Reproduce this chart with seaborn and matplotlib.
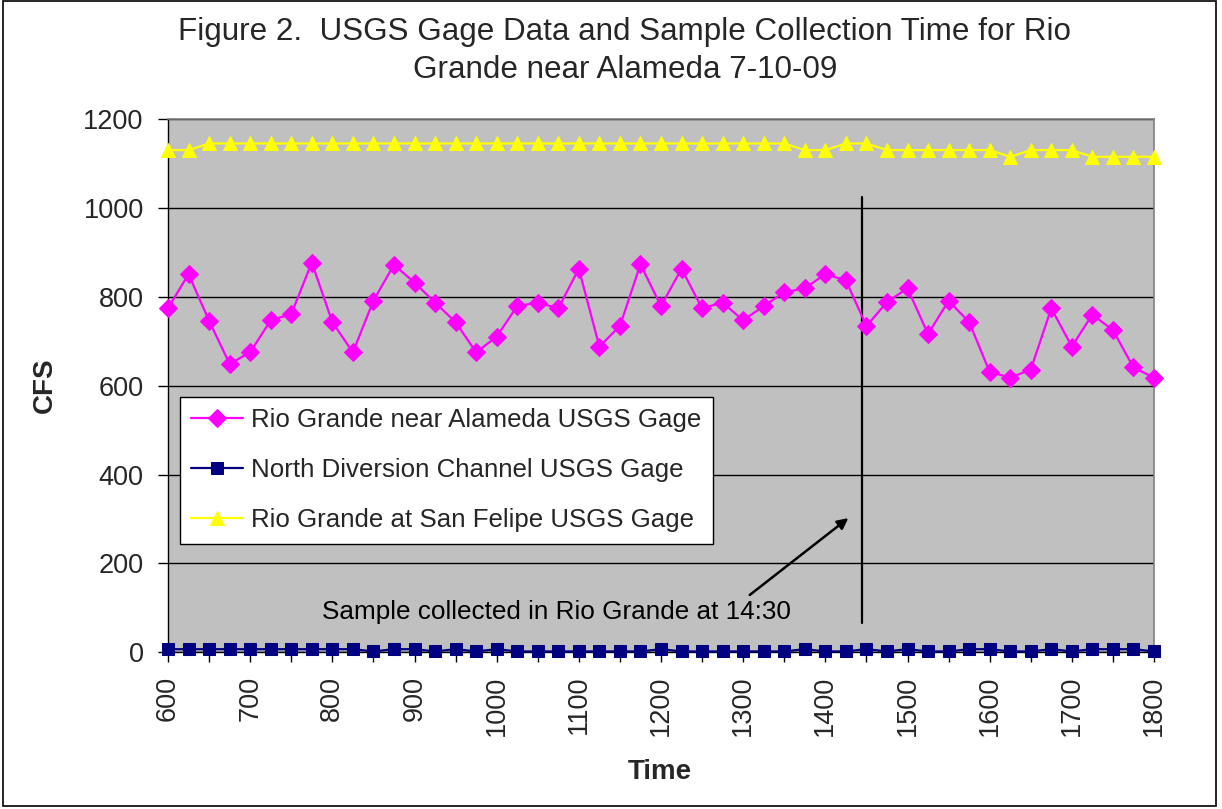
import matplotlib
matplotlib.use("Agg")
import matplotlib.pyplot as plt
import seaborn as sns
from matplotlib.patches import Rectangle

# ---------------- data ----------------
times = [600, 625, 650, 675, 700, 725, 750, 775, 800, 825,
         850, 875, 900, 925, 950, 975, 1000, 1025, 1050, 1075,
         1100, 1125, 1150, 1175, 1200, 1225, 1250, 1275, 1300, 1325,
         1350, 1375, 1400, 1425, 1450, 1475, 1500, 1525, 1550, 1575,
         1600, 1625, 1650, 1675, 1700, 1725, 1750, 1775, 1800]

alameda = [774, 851, 746, 649, 675, 747, 761, 877, 743, 675,
           791, 872, 832, 787, 743, 675, 710, 779, 787, 774,
           863, 688, 734, 873, 779, 863, 774, 787, 747, 779,
           810, 819, 851, 837, 734, 788, 819, 716, 791, 743,
           631, 618, 636, 774, 688, 760, 725, 641, 618]

north_div = [7, 7, 7, 7, 7, 7, 7, 7, 7, 7,
             2, 7, 7, 2, 7, 2, 7, 2, 2, 2,
             2, 2, 2, 2, 7, 2, 2, 2, 2, 2,
             2, 7, 2, 2, 7, 2, 7, 2, 2, 7,
             7, 2, 2, 7, 2, 7, 7, 7, 2]

san_felipe = [1130, 1130, 1145, 1145, 1145, 1145, 1145, 1145, 1145, 1145,
              1145, 1145, 1145, 1145, 1145, 1145, 1145, 1145, 1145, 1145,
              1145, 1145, 1145, 1145, 1145, 1145, 1145, 1145, 1145, 1145,
              1145, 1130, 1130, 1145, 1145, 1130, 1130, 1130, 1130, 1130,
              1130, 1115, 1130, 1130, 1130, 1115, 1115, 1115, 1115]

series_names = ["Rio Grande near Alameda USGS Gage",
                "North Diversion Channel USGS Gage",
                "Rio Grande at San Felipe USGS Gage"]

title_lines = ["Figure 2.  USGS Gage Data and Sample Collection Time for Rio",
               "Grande near Alameda 7-10-09"]
annot_text = "Sample collected in Rio Grande at 14:30"
sample_time = 1445

# ---------------- style ----------------
sns.set_style("white")
plt.rcParams['font.family'] = ['Liberation Sans', 'DejaVu Sans']

W, H = 1222, 809
fig = plt.figure(figsize=(W / 100, H / 100), dpi=100)
fig.patch.set_facecolor('white')
ax = fig.add_axes([168 / W, 1 - 652.3 / H, 986 / W, 533.3 / H])
ax.set_facecolor('#C0C0C0')

sns.lineplot(x=times, y=alameda, ax=ax, color='#FF00FF', marker='D',
             markersize=9.5, markeredgecolor='#FF00FF', linewidth=1.6,
             label=series_names[0], clip_on=False, zorder=4)
sns.lineplot(x=times, y=north_div, ax=ax, color='#000080', marker='s',
             markersize=8.5, markeredgecolor='#000080', linewidth=1.6,
             label=series_names[1], clip_on=False, zorder=4)
sns.lineplot(x=times, y=san_felipe, ax=ax, color='#FFFF00', marker='^',
             markersize=10.5, markeredgecolor='#FFFF00', linewidth=1.6,
             label=series_names[2], clip_on=False, zorder=4)

ax.set_xlim(600, 1800)
ax.set_ylim(0, 1200)
ax.set_yticks(list(range(0, 1201, 200)))
ax.set_yticklabels([str(v) for v in range(0, 1201, 200)])
xt = times[::2]
ax.set_xticks(xt)
ax.set_xticklabels([str(t) if t % 100 == 0 else '' for t in xt], rotation=90)
ax.yaxis.grid(True, color='black', linewidth=1)
ax.xaxis.grid(False)
ax.set_axisbelow(True)
ax.tick_params(axis='both', which='both', bottom=True, left=True,
               direction='out', length=7, width=1, color='black',
               labelsize=19.5)
ax.tick_params(axis='y', pad=10.5)
ax.tick_params(axis='x', pad=10)
ax.set_xlabel('')
ax.set_ylabel('')

for s in ['left', 'bottom']:
    ax.spines[s].set_color('black')
    ax.spines[s].set_linewidth(1)
for s in ['top', 'right']:
    ax.spines[s].set_color('#808080')
    ax.spines[s].set_linewidth(1.2)

# sample line and annotation
ax.plot([sample_time, sample_time], [65, 1025], color='black', linewidth=1.6, zorder=3)
ax.annotate('', xy=(1428, 302), xytext=(1308, 129),
            arrowprops=dict(arrowstyle='-|>', color='black', lw=1.8,
                            mutation_scale=16, shrinkA=0, shrinkB=0), zorder=3)
ax.text(787, 91, annot_text, ha='left', va='center', fontsize=18.8, color='black', zorder=3)

leg = ax.legend(loc='upper left', bbox_to_anchor=(0.012, 0.479), fontsize=18.6,
                frameon=True, fancybox=False, edgecolor='black', framealpha=1,
                facecolor='white', handlelength=2.0, labelspacing=1.0,
                borderpad=0.45, handletextpad=0.3, borderaxespad=0)
leg.get_frame().set_linewidth(1)

# titles and labels
fig.text(625 / W, 1 - 32 / H, title_lines[0], ha='center', va='center', fontsize=22.6)
fig.text(625 / W, 1 - 70 / H, title_lines[1], ha='center', va='center', fontsize=22.6)
fig.text(45 / W, 1 - 385 / H, 'CFS', rotation=90, ha='center', va='center',
         fontsize=20, fontweight='bold')
fig.text(660 / W, 1 - 772 / H, 'Time', ha='center', va='center',
         fontsize=20, fontweight='bold')

# figure border
fig.patches.append(Rectangle((3 / W, 3 / H), 1213 / W, 805 / H, transform=fig.transFigure,
                             fill=False, edgecolor='black', linewidth=1.2))

fig.savefig('out.png', dpi=100)
